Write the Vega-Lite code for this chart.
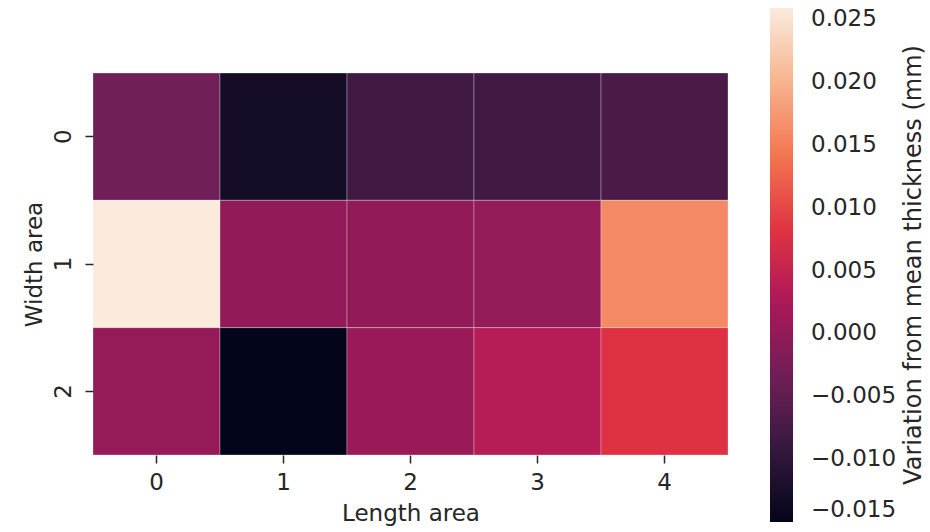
{
  "$schema": "https://vega.github.io/schema/vega-lite/v6.json",
  "autosize": "none",
  "width": 635,
  "height": 382,
  "padding": {"left": 93, "top": 73, "right": 202, "bottom": 77},
  "background": "white",
  "config": {
    "view": {"stroke": null},
    "font": "DejaVu Sans",
    "axis": {"labelFont": "DejaVu Sans", "titleFont": "DejaVu Sans", "labelFontSize": 23, "titleFontSize": 23, "titleFontWeight": "normal", "labelColor": "#262626", "titleColor": "#262626", "tickColor": "#262626", "tickSize": 8, "tickWidth": 1.5, "domain": false, "grid": false},
    "legend": {"labelFont": "DejaVu Sans", "titleFont": "DejaVu Sans"}
  },
  "data": {
    "values": [
      {"length": 0, "width": 0, "value": -0.0033},
      {"length": 1, "width": 0, "value": -0.0129},
      {"length": 2, "width": 0, "value": -0.0080},
      {"length": 3, "width": 0, "value": -0.0081},
      {"length": 4, "width": 0, "value": -0.0071},
      {"length": 0, "width": 1, "value": 0.0259},
      {"length": 1, "width": 1, "value": 0.0000},
      {"length": 2, "width": 1, "value": 0.0000},
      {"length": 3, "width": 1, "value": -0.0001},
      {"length": 4, "width": 1, "value": 0.0161},
      {"length": 0, "width": 2, "value": 0.0001},
      {"length": 1, "width": 2, "value": -0.0150},
      {"length": 2, "width": 2, "value": 0.0007},
      {"length": 3, "width": 2, "value": 0.0035},
      {"length": 4, "width": 2, "value": 0.0080}
    ]
  },
  "mark": {"type": "rect", "stroke": "white", "strokeWidth": 0.6, "strokeOpacity": 0.5},
  "encoding": {
    "x": {"field": "length", "type": "ordinal", "title": "Length area", "scale": {"paddingInner": 0, "paddingOuter": 0}, "axis": {"labelAngle": 0, "labelPadding": 8, "titlePadding": 8}},
    "y": {"field": "width", "type": "ordinal", "title": "Width area", "scale": {"paddingInner": 0, "paddingOuter": 0}, "axis": {"labelAngle": 270, "labelPadding": 10, "labelBaseline": "bottom", "labelAlign": "center", "titlePadding": 6}},
    "color": {
      "field": "value",
      "type": "quantitative",
      "title": "Variation from mean thickness (mm)",
      "scale": {
        "type": "linear",
        "domain": [-0.015, -0.009157, -0.003314, 0.002529, 0.008371, 0.014214, 0.020057, 0.0259],
        "range": ["#03051a", "#35193e", "#701f57", "#ad1759", "#e13342", "#f37651", "#f6b48f", "#faebdd"],
        "interpolate": "rgb"
      },
      "legend": {
        "orient": "none",
        "legendX": 677,
        "legendY": -65,
        "direction": "vertical",
        "gradientLength": 514,
        "gradientThickness": 23,
        "gradientStrokeWidth": 0,
        "values": [-0.015, -0.01, -0.005, 0, 0.005, 0.01, 0.015, 0.02, 0.025],
        "format": ".3f",
        "labelExpr": "replace(format(datum.value, '.3f'), '-', '−')",
        "labelFontSize": 23,
        "labelColor": "#262626",
        "labelOffset": 18,
        "labelOverlap": false,
        "titleOrient": "right",
        "titleAnchor": "middle",
        "titleLimit": 1000,
        "titleFontSize": 24,
        "titleFontWeight": "normal",
        "titleColor": "#262626",
        "titlePadding": 6,
        "encode": {"title": {"update": {"angle": {"value": 270}, "baseline": {"value": "top"}}}}
      }
    }
  }
}
